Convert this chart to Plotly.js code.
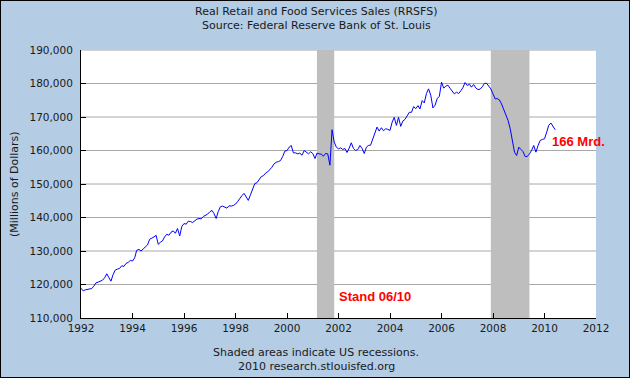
<!DOCTYPE html>
<html><head><meta charset="utf-8">
<script src="https://cdn.plot.ly/plotly-3.0.1.min.js"></script>
<style>
html,body{margin:0;padding:0;background:#b4cce4;}
#wrap{position:relative;width:630px;height:378px;overflow:hidden;}
#chart{width:630px;height:378px;}
#frame{position:absolute;left:0;top:0;width:628px;height:376px;border:1px solid #000;pointer-events:none;}
</style>
</head><body>
<div id="wrap"><div id="chart"></div><div id="frame"></div></div>
<script>
// ---- data (monthly, Jan 1992 - Jun 2010), millions of dollars ----
const seriesStartYear = 1992;
const salesMillions = [
 // 1992
 118900,118100,118400,118600,118700,118800,119500,120500,120700,121000,121300,122000,
 // 1993
 123200,122000,121000,123000,124300,124600,124800,125600,125400,126300,126600,127200,
 // 1994
 127000,128000,130200,130500,130000,130600,131200,131800,133500,133800,134200,134700,
 // 1995
 132000,132600,133000,134200,135000,134700,135600,136000,135300,136700,134500,137300,
 // 1996
 138200,138000,138900,138800,138500,139000,139500,139700,139600,140300,140700,141000,
 // 1997
 141700,142100,141200,139700,141800,143200,143400,143200,142800,143500,143400,143600,
 // 1998
 144000,144800,145700,146500,147200,146000,145100,146800,148500,150100,150400,151500,
 // 1999
 152200,152500,153200,153600,154200,155000,156000,156500,156700,157000,158200,159800,
 // 2000
 160000,161000,161500,159300,159300,159000,159200,158600,160000,159400,159000,159600,
 // 2001
 159100,157600,159200,159000,158900,158300,159100,159000,155600,166200,162500,161000,
 // 2002
 160500,160800,160300,160600,159400,160700,162300,160600,160000,160300,161500,160600,
 // 2003
 159100,161000,161500,161600,163500,165000,167000,165800,166800,165900,166500,166300,
 // 2004
 166000,168500,169900,167500,169900,167200,168800,169300,170500,171400,171400,173100,
 // 2005
 172500,173400,172400,174900,174200,177000,178400,176500,172700,173500,175500,176200,
 // 2006
 180400,178600,179200,179500,178600,177600,176900,177400,177000,177800,178800,180300,
 // 2007
 179400,179800,178900,179700,178700,178200,178300,179000,180000,180100,179300,178400,
 // 2008
 176900,175400,175500,175100,173900,172400,170500,169000,166500,163000,159500,158500,
 // 2009
 161000,160300,159700,158200,158200,159000,160000,161500,159500,161500,163000,163300,
 // 2010
 163500,165500,167500,168200,167200,166200
];
const recessionStarts = ['2001-03-01','2007-12-01'];
const recessionEnds   = ['2001-11-01','2009-06-01'];
const xTickYears = ['1992','1994','1996','1998','2000','2002','2004','2006','2008','2010','2012'];
const yTickValues = [110000,120000,130000,140000,150000,160000,170000,180000,190000];
const chartTitle = 'Real Retail and Food Services Sales (RRSFS)';
const chartSource = 'Source: Federal Reserve Bank of St. Louis';
const yAxisLabel = '(Millions of Dollars)';
const footnote1 = 'Shaded areas indicate US recessions.';
const footnote2 = '2010 research.stlouisfed.org';
const noteDate = 'Stand 06/10';
const noteLast = '166 Mrd.';

// ---- build month dates ----
const dates = salesMillions.map((_, i) => {
  const y = seriesStartYear + Math.floor(i / 12);
  const m = (i % 12) + 1;
  return y + '-' + String(m).padStart(2, '0') + '-01';
});

// ---- layout geometry (pixels) ----
const W = 630, H = 378;
const M = {l: 81, r: 34, t: 50, b: 60};
const PW = W - M.l - M.r, PH = H - M.t - M.b;
const px = X => (X - M.l) / PW;
const py = Y => (H - M.b - Y) / PH;

const font = 'DejaVu Sans, Verdana, sans-serif';
const txt = '#1a1a1a';

// gridlines drawn first (below), recession bars on top of them, data line above all
const gridShapes = yTickValues.slice(1).map(v => ({
  type: 'line', xref: 'x domain', yref: 'y', x0: 0, x1: 1, y0: v, y1: v,
  line: {color: '#a8a8a8', width: 1}, layer: 'below'
}));
const recShapes = recessionStarts.map((s, i) => ({
  type: 'rect', xref: 'x', yref: 'y domain', x0: s, x1: recessionEnds[i], y0: 0, y1: 1,
  fillcolor: '#bebebe', line: {width: 0}, layer: 'below'
}));

const ann = (text, X, Y, opts) => Object.assign({
  text, xref: 'paper', yref: 'paper', x: px(X), y: py(Y), showarrow: false,
  xanchor: 'center', yanchor: 'middle', font: {family: font, size: 11, color: txt}
}, opts || {});

const redFont = {family: 'Liberation Sans, Arial, sans-serif', size: 13, color: '#ff0000', weight: 'bold'};
const annotations = [
  ann(chartTitle, 316, 12),
  ann(chartSource, 316, 26),
  ann(yAxisLabel, 14, 184, {textangle: -90}),
  ann(footnote1, 316, 352),
  ann(footnote2, 316, 366),
  ann(noteDate, 337, 296, {xanchor: 'left', font: redFont}),
  ann(noteLast, 550, 141, {xanchor: 'left', font: redFont})
];

const trace = {
  x: dates, y: salesMillions, type: 'scatter', mode: 'lines',
  line: {color: '#0000ff', width: 1}, hoverinfo: 'skip'
};

const layout = {
  width: W, height: H,
  margin: M,
  paper_bgcolor: '#b4cce4', plot_bgcolor: '#ffffff',
  showlegend: false,
  xaxis: {
    type: 'date', range: ['1992-01-01', '2012-01-01'],
    tickvals: xTickYears.map(y => y + '-01-01'), ticktext: xTickYears,
    ticks: 'inside', ticklen: 5, tickcolor: '#000', tickwidth: 1,
    showgrid: false, zeroline: false, showline: true, linecolor: '#000', linewidth: 1,
    tickfont: {family: font, size: 10.5, color: txt}
  },
  yaxis: {
    range: [110000, 190000], tickvals: yTickValues, tickformat: ',d',
    ticks: 'inside', ticklen: 5, tickcolor: '#000', tickwidth: 1,
    showgrid: false, ticklabelstandoff: 5,
    zeroline: false, showline: true, linecolor: '#000', linewidth: 1,
    tickfont: {family: font, size: 10.5, color: txt}
  },
  shapes: gridShapes.concat(recShapes), annotations
};

Plotly.newPlot('chart', [trace], layout, {displayModeBar: false, staticPlot: true});
</script>
</body></html>
